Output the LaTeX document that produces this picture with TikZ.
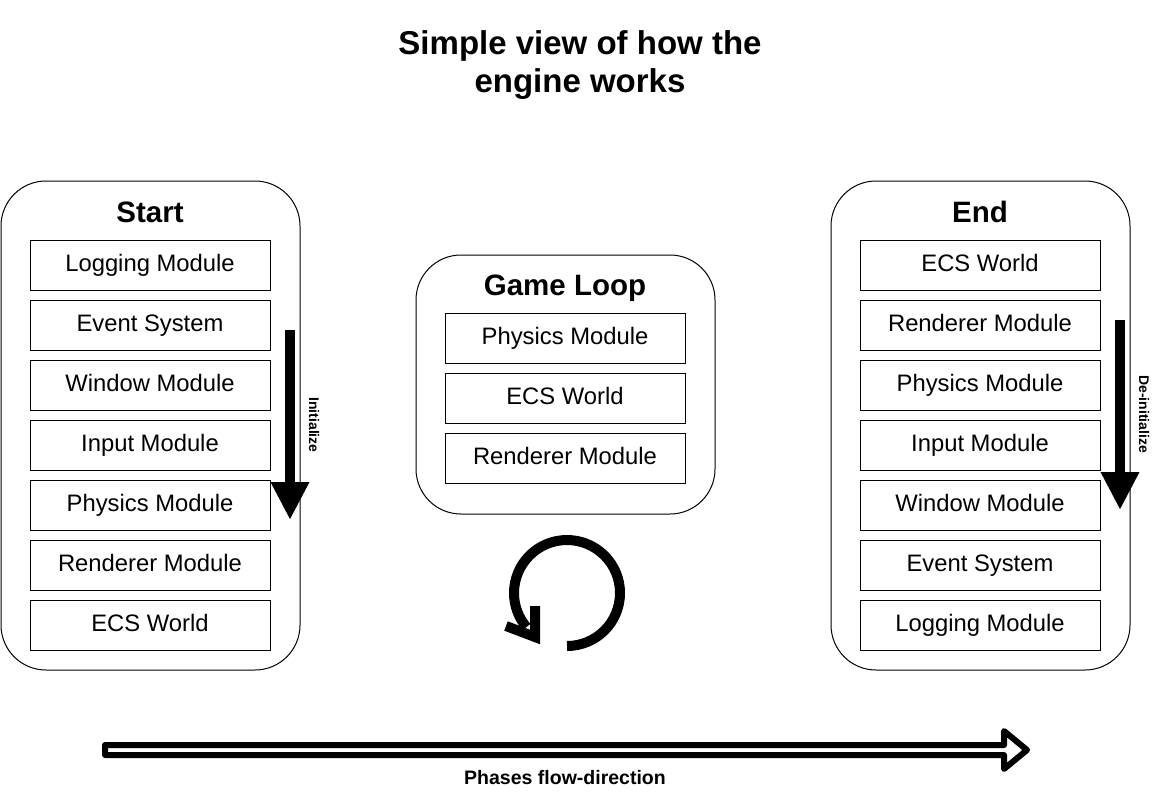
\documentclass[tikz,border=0pt]{standalone}
\usepackage{fontspec}
\setmainfont{Liberation Sans}
\usetikzlibrary{arrows.meta}
\tikzset{
  container/.style={draw, line width=1pt, rounded corners=45pt},
  modbox/.style={draw, line width=1pt, minimum width=240pt, minimum height=50pt, inner sep=0pt,
    text height=12pt, text depth=0pt, font=\fontsize{23.8}{28}\selectfont},
  heading/.style={font=\bfseries\fontsize{29.5}{34}\selectfont, inner sep=0pt, anchor=base},
  sidelabel/.style={font=\bfseries\fontsize{14}{16}\selectfont, inner sep=0pt, rotate=-90},
  downarrow/.style={line width=10pt, -{Triangle[length=38pt,width=36pt]}},
  thick10/.style={line width=10pt},
}
\begin{document}
\begin{tikzpicture}[x=1pt,y=-1pt]
\useasboundingbox (0,0) rectangle (1166,811);
% title
\node[font=\bfseries\fontsize{33}{38}\selectfont, align=center, inner sep=0pt] (title) at (580,65) {Simple view of how the\\engine works};

% Start container
\draw[container] (1,181) rectangle (300,670);
\node[heading] (starth) at (150,222) {Start};
\node[modbox] (s1) at (150,265) {Logging Module};
\node[modbox] (s2) at (150,325) {Event System};
\node[modbox] (s3) at (150,385) {Window Module};
\node[modbox] (s4) at (150,445) {Input Module};
\node[modbox] (s5) at (150,505) {Physics Module};
\node[modbox] (s6) at (150,565) {Renderer Module};
\node[modbox] (s7) at (150,625) {ECS World};
\coordinate (initTop) at (290,330);
\coordinate (initTip) at (290,520);
\draw[downarrow] (initTop) -- (initTip);
\node[sidelabel] (initl) at (314,425) {Initialize};

% Game loop container
\draw[container] (416,255) rectangle (715,514);
\node[heading] (gameh) at (565,295) {Game Loop};
\node[modbox] (g1) at (565,338) {Physics Module};
\node[modbox] (g2) at (565,398) {ECS World};
\node[modbox] (g3) at (565,458) {Renderer Module};
% loop arrow
\draw[thick10] (567,646) arc[start angle=90, end angle=-220, radius=53];
\draw[thick10, miter limit=10] (535,606) -- (535,637) -- (506,626);

% End container
\draw[container] (831,181) rectangle (1130,670);
\node[heading] (endh) at (980,222) {End};
\node[modbox] (e1) at (980,265) {ECS World};
\node[modbox] (e2) at (980,325) {Renderer Module};
\node[modbox] (e3) at (980,385) {Physics Module};
\node[modbox] (e4) at (980,445) {Input Module};
\node[modbox] (e5) at (980,505) {Window Module};
\node[modbox] (e6) at (980,565) {Event System};
\node[modbox] (e7) at (980,625) {Logging Module};
\coordinate (deinitTop) at (1120,320);
\coordinate (deinitTip) at (1120,510);
\draw[downarrow] (deinitTop) -- (deinitTip);
\node[sidelabel] (deinitl) at (1144,414) {De-initialize};

% phases arrow
\draw[line width=6pt, line join=round] (105,745) -- (1004,745) -- (1004,731) -- (1027,750) -- (1004,769) -- (1004,755) -- (105,755) -- cycle;
\node[font=\bfseries\fontsize{19.5}{22}\selectfont, inner sep=0pt] (phases) at (565,778) {Phases flow-direction};
\end{tikzpicture}
\end{document}
